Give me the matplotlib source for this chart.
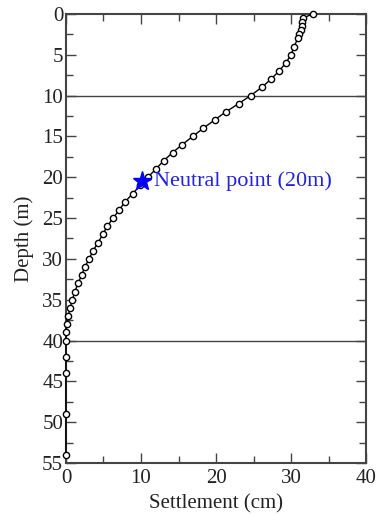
import matplotlib
matplotlib.use("Agg")
import matplotlib.pyplot as plt
from matplotlib.ticker import MultipleLocator

depth = [0, 0.5, 1, 1.5, 2, 2.5, 3, 4, 5, 6, 7, 8, 9, 10, 11, 12, 13, 14, 15, 16,
         17, 18, 19, 20, 21, 22, 23, 24, 25, 26, 27, 28, 29, 30, 31, 32, 33, 34,
         35, 36, 37, 38, 39, 40, 42, 44, 49, 54]
settlement = [32.9, 31.6, 31.5, 31.4, 31.3, 31.1, 30.9, 30.4, 30.0, 29.3, 28.4, 27.3,
              26.1, 24.6, 23.0, 21.3, 19.8, 18.3, 16.9, 15.5, 14.2, 13.0, 12.0, 10.9,
              9.9, 8.9, 7.9, 7.1, 6.3, 5.5, 4.9, 4.3, 3.6, 3.1, 2.5, 2.1, 1.6, 1.2,
              0.85, 0.55, 0.3, 0.1, 0.0, 0.0, 0.0, 0.0, 0.0, 0.0]
layer_depths = [10, 40]
neutral_x, neutral_depth = 10.2, 20.5
neutral_label = "Neutral point (20m)"

plt.rcParams['font.family'] = ['Liberation Serif', 'DejaVu Serif']
fig = plt.figure(figsize=(3.79, 5.15), dpi=100)
ax = fig.add_axes([0.174, 0.101, 0.792, 0.872])

for d in layer_depths:
    ax.axhline(d, color='#444444', lw=1.0, zorder=1)

ax.plot(settlement, depth, '-o', color='black', lw=1.0, ms=4.5, mfc='white',
        mec='black', mew=1.0, zorder=3, clip_on=False)
ax.plot([neutral_x], [neutral_depth], marker='*', color='blue', ms=14, zorder=4,
        linestyle='none')
ax.text(neutral_x + 1.6, neutral_depth, neutral_label, color='#2222dd', fontsize=16,
        va='center', ha='left')

ax.set_xlim(0, 40)
ax.set_ylim(55, 0)
ax.xaxis.set_major_locator(MultipleLocator(10))
ax.xaxis.set_minor_locator(MultipleLocator(5))
ax.yaxis.set_major_locator(MultipleLocator(5))
ax.yaxis.set_minor_locator(MultipleLocator(2.5))
ax.tick_params(which='both', direction='in', top=True, right=True,
               color='#444444', width=1.0, labelsize=15,
               labelcolor='#222222')
ax.tick_params(axis='x', which='both', pad=4)
ax.tick_params(axis='y', which='both', pad=2)
ax.tick_params(which='major', length=7)
ax.tick_params(which='minor', length=5)
for s in ax.spines.values():
    s.set_color('#444444')
    s.set_linewidth(1.5)

ax.set_xlabel('Settlement (cm)', fontsize=15, labelpad=5, color='#222222')
ax.set_ylabel('Depth (m)', fontsize=15, labelpad=6, color='#222222')

fig.savefig('out.png', dpi=100)
